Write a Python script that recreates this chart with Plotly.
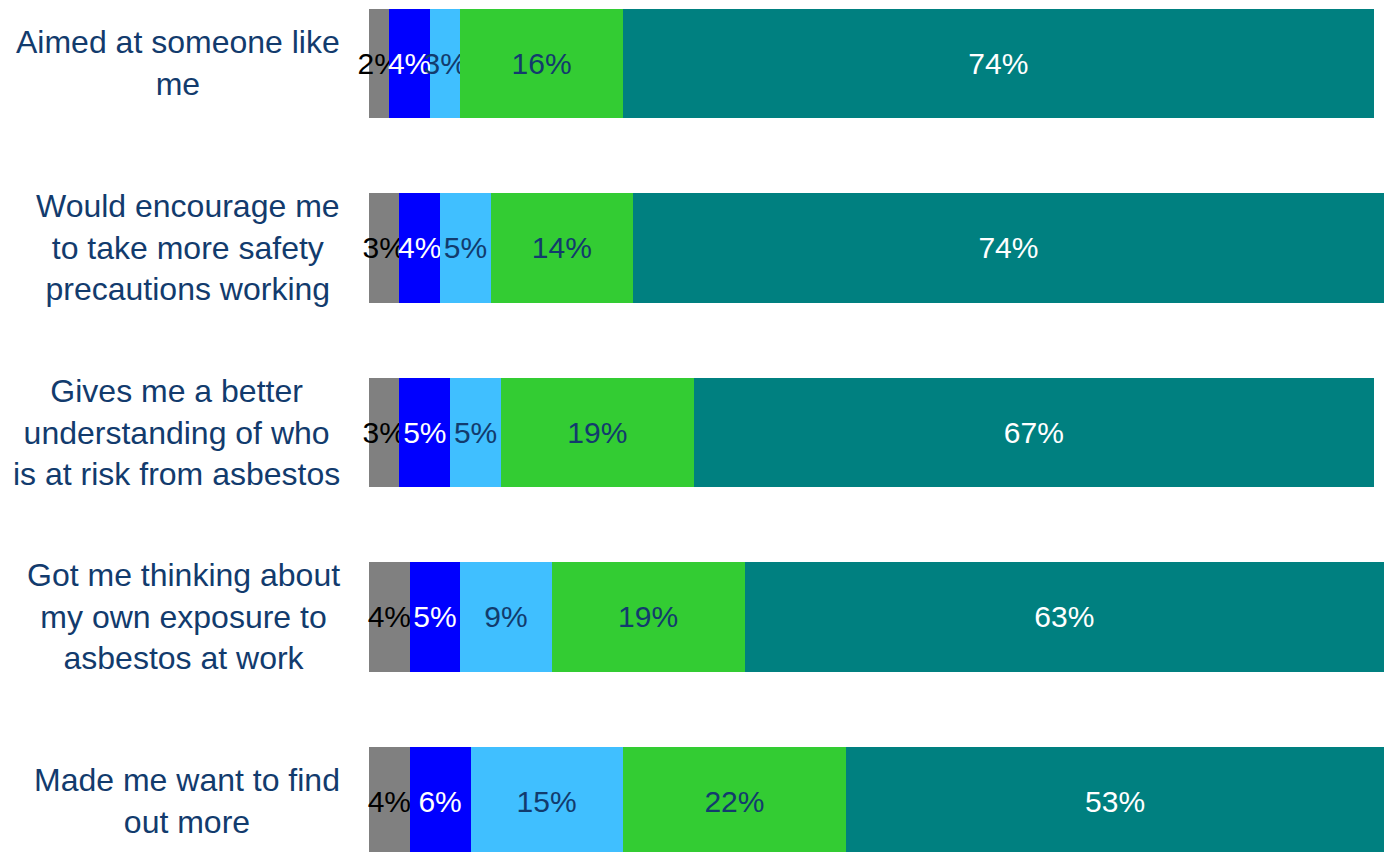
import plotly.graph_objects as go

# Survey statements (top to bottom) and response shares in percent
statements = [
    "Aimed at someone like<br>me",
    "Would encourage me<br>to take more safety<br>precautions working",
    "Gives me a better<br>understanding of who<br>is at risk from asbestos",
    "Got me thinking about<br>my own exposure to<br>asbestos at work",
    "Made me want to find<br>out more",
]
dont_know = [2, 3, 3, 4, 4]
disagree_strongly = [4, 4, 5, 5, 6]
disagree = [3, 5, 5, 9, 15]
agree = [16, 14, 19, 19, 22]
agree_strongly = [74, 74, 67, 63, 53]

series = [
    ("Don't know", dont_know, "#808080", "#000000"),
    ("Disagree strongly", disagree_strongly, "#0000FF", "#FFFFFF"),
    ("Disagree", disagree, "#40BFFF", "#123B6D"),
    ("Agree", agree, "#33CC33", "#123B6D"),
    ("Agree strongly", agree_strongly, "#008080", "#FFFFFF"),
]

FONT = "Arial, Liberation Sans, sans-serif"
NAVY = "#123B6D"

fig = go.Figure()
for name, vals, color, txtcolor in series:
    fig.add_trace(go.Bar(
        name=name,
        y=list(range(len(statements))),
        x=vals,
        orientation="h",
        width=0.594,
        marker=dict(color=color, line=dict(width=0)),
        text=[f"{v}%" for v in vals],
        textposition="inside",
        insidetextanchor="middle",
        constraintext="none",
        textangle=0,
        textfont=dict(family=FONT, size=30, color=txtcolor),
        cliponaxis=False,
        hoverinfo="skip",
    ))

# Category labels: right-aligned block, centred lines
for i, s in enumerate(statements):
    fig.add_annotation(
        text=s, xref="paper", x=0, xanchor="right", xshift=-27,
        yref="y", y=i, yanchor="middle",
        align="center", showarrow=False,
        font=dict(family=FONT, size=32, color=NAVY),
    )

fig.update_layout(
    barmode="stack",
    width=1384, height=852,
    margin=dict(l=369, r=0, t=0, b=0),
    paper_bgcolor="white", plot_bgcolor="white",
    showlegend=False,
    xaxis=dict(range=[0, 100], visible=False, fixedrange=True),
    yaxis=dict(range=[4.274, -0.344], visible=False, fixedrange=True),
)

fig.write_html("out.html")
